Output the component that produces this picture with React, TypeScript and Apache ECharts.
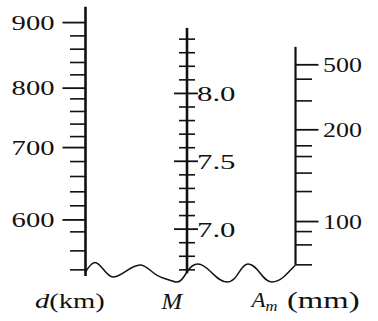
import React, { useEffect, useRef } from "react";
import * as echarts from "echarts";

// ---- Nomogram data -------------------------------------------------------
// Every graduation is placed on the common ordinate of the nomogram, which is
// expressed in magnitude (M) units, so that the three scales share one axis.

// Epicentral distance scale d (km)
const dTicks = [900, 880, 860, 840, 820, 800, 780, 760, 740, 720, 700, 680, 660, 640, 620, 600, 580, 560, 540];
const dTickLevels = [8.522, 8.424, 8.326, 8.228, 8.137, 8.039, 7.96, 7.867, 7.774, 7.682, 7.601, 7.498, 7.388, 7.275, 7.172, 7.068, 6.98, 6.84, 6.7];
const dLabels = [900, 800, 700, 600];
const dRange = [6.655, 8.638];

// Magnitude scale M (linear)
const mTicks = [6.7, 6.8, 6.9, 7.0, 7.1, 7.2, 7.3, 7.4, 7.5, 7.6, 7.7, 7.8, 7.9, 8.0, 8.1, 8.2, 8.3, 8.4];
const mLabels = [7.0, 7.5, 8.0];
const mRange = [6.675, 8.483];

// Maximum amplitude scale A_m (mm)
const aTicks = [500, 400, 300, 200, 180, 160, 140, 120, 100, 90, 80, 70];
const aTickLevels = [8.211, 8.105, 7.945, 7.732, 7.614, 7.535, 7.413, 7.277, 7.056, 6.982, 6.884, 6.737];
const aLabels = [500, 200, 100];
const aRange = [6.737, 8.343];

// ---- Layout (pixels) -----------------------------------------------------
const W = 378;
const H = 321;
const X_D = 85.5;
const X_M = 187;
const X_A = 295.5;
const INK = "#111";
const SERIF = "Liberation Serif";
const FS = 22;
const SX = 1.3;

const WAVE =
  "M85,273 C89,266 92,262.5 95,262.5 C101,262.5 106,277 113,277 C121,277 131,265 140,265 " +
  "C148,265 152,275 163,278 C170,280 174,282 177,282 C182,282 184,276 187,272 " +
  "C190,267 193,264 198,264 C208,264 216,282 227,282 C238,282 240,264 248,264 " +
  "C258,264 262,282 272,282 C282,282 290,270 295.5,265";

let registered = false;
function registerShapes() {
  if (registered) return;
  echarts.graphic.registerShape("breakwave", echarts.graphic.extendPath(WAVE, {}));
  registered = true;
}

type ScaleSpec = {
  name: string;
  x: number;
  ticks: number[];
  levels: number[];
  labels: number[];
  range: number[];
  tick: (major: boolean) => [number, number];
  labelDx: number;
  labelAlign: "left" | "right";
  labelScale: number;
  fmt: (v: number) => string;
  spineWidth: number;
};

const scales: ScaleSpec[] = [
  {
    name: "d",
    x: X_D,
    ticks: dTicks,
    levels: dTickLevels,
    labels: dLabels,
    range: dRange,
    tick: (major) => (major ? [-23, 0] : [-15.5, 0]),
    labelDx: -31,
    labelAlign: "right",
    labelScale: SX,
    fmt: (v) => String(v),
    spineWidth: 2.6,
  },
  {
    name: "M",
    x: X_M,
    ticks: mTicks,
    levels: mTicks,
    labels: mLabels,
    range: mRange,
    tick: (major) => (major ? [-13, 11] : [-8, 8]),
    labelDx: 10,
    labelAlign: "left",
    labelScale: 1.4,
    fmt: (v) => v.toFixed(1),
    spineWidth: 2.6,
  },
  {
    name: "A",
    x: X_A,
    ticks: aTicks,
    levels: aTickLevels,
    labels: aLabels,
    range: aRange,
    tick: (major) => (major ? [0, 23] : [0, 16.5]),
    labelDx: 27.5,
    labelAlign: "left",
    labelScale: 1.18,
    fmt: (v) => String(v),
    spineWidth: 2.2,
  },
];

function textStyle(text: string, size: number, italic: boolean, align: string) {
  return {
    text,
    x: 0,
    y: 0,
    fill: INK,
    fontFamily: SERIF,
    fontSize: size,
    fontStyle: italic ? "italic" : "normal",
    align,
    textAlign: align,
    verticalAlign: "middle",
    textVerticalAlign: "middle",
  };
}

function buildSeries() {
  const series: any[] = [];
  scales.forEach((s) => {
    // spine
    series.push({
      type: "custom",
      name: s.name + "-spine",
      silent: true,
      data: [[s.range[0], s.range[1]]],
      renderItem: (_p: any, api: any) => {
        const p0 = api.coord([s.x, api.value(0)]);
        const p1 = api.coord([s.x, api.value(1)]);
        return {
          type: "line",
          shape: { x1: p0[0], y1: p0[1], x2: p1[0], y2: p1[1] },
          style: { stroke: INK, lineWidth: s.spineWidth, lineCap: "butt" },
        };
      },
    });
    // graduations and labels
    series.push({
      type: "custom",
      name: s.name + "-ticks",
      silent: true,
      data: s.ticks.map((v, i) => [s.levels[i], v, s.labels.indexOf(v) >= 0 ? 1 : 0]),
      renderItem: (_p: any, api: any) => {
        const level = api.value(0);
        const val = api.value(1);
        const major = api.value(2) === 1;
        const pt = api.coord([s.x, level]);
        const [a, b] = s.tick(major);
        const children: any[] = [
          {
            type: "line",
            shape: { x1: pt[0] + a, y1: pt[1], x2: pt[0] + b, y2: pt[1] },
            style: { stroke: INK, lineWidth: major ? 1.8 : 1.6 },
          },
        ];
        if (major) {
          children.push({
            type: "text",
            x: pt[0] + s.labelDx,
            y: pt[1],
            scaleX: s.labelScale,
            style: textStyle(s.fmt(val), FS, false, s.labelAlign),
          });
        }
        return { type: "group", children };
      },
    });
  });
  return series;
}

function titleText(x: number, y: number, text: string, italic: boolean, size = FS, sx = SX) {
  return {
    type: "text",
    x,
    y,
    scaleX: sx,
    silent: true,
    style: textStyle(text, size, italic, "left"),
  };
}

export default function App() {
  const ref = useRef<HTMLDivElement>(null);
  useEffect(() => {
    if (!ref.current) return;
    registerShapes();
    const chart = echarts.init(ref.current, undefined, { renderer: "svg" });
    chart.setOption({
      animation: false,
      backgroundColor: "#fff",
      grid: { left: 0, right: 0, top: 12, bottom: 24 },
      xAxis: { type: "value", min: 0, max: W, show: false },
      yAxis: { type: "value", min: 6.5, max: 8.6, show: false },
      series: buildSeries(),
      graphic: [
        {
          type: "breakwave",
          x: 0,
          y: 0,
          silent: true,
          style: { fill: "none", stroke: INK, lineWidth: 1.5 },
        },
        titleText(35, 301, "d", true),
        titleText(35 + 11 * SX, 301, "(km)", false),
        titleText(161.5, 301, "M", true, 23, 1.08),
        titleText(251.5, 300, "A", true, FS, 1.05),
        titleText(265.5, 306, "m", true, 15, 1.1),
        titleText(287, 300.5, "(mm)", false, 23, 1.42),
      ],
    });
    return () => chart.dispose();
  }, []);
  return (
    <div
      ref={ref}
      style={{ position: "fixed", left: 0, top: 0, width: W, height: H, background: "#fff" }}
    />
  );
}
